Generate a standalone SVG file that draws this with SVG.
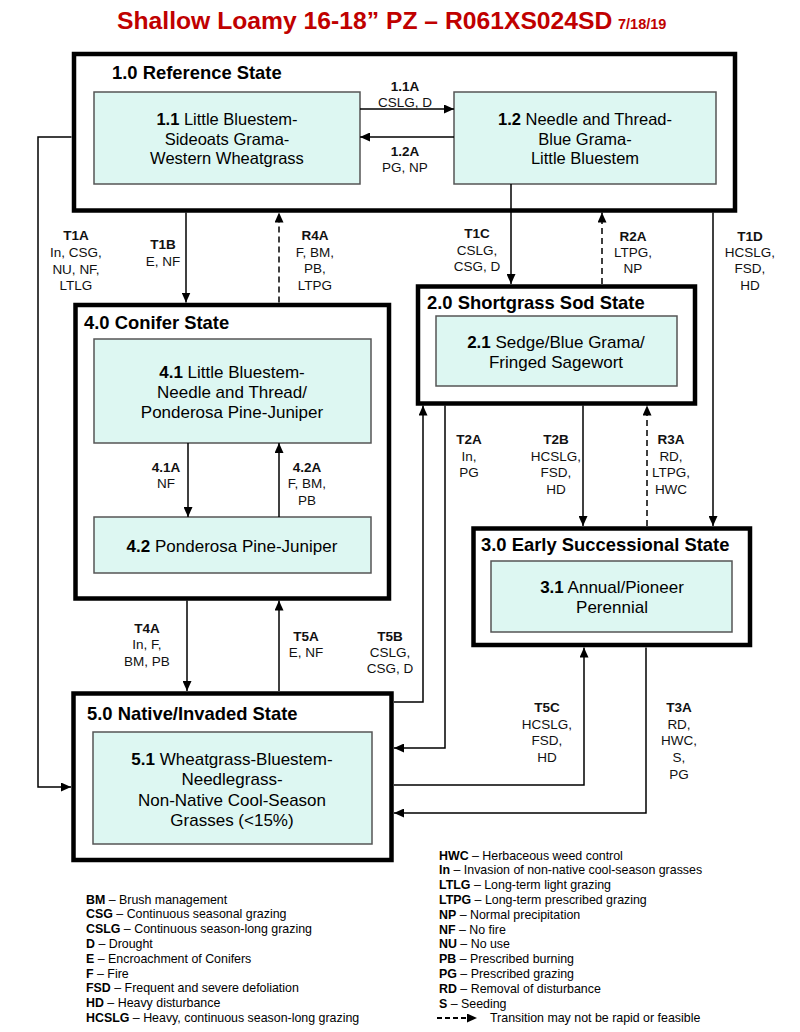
<svg xmlns="http://www.w3.org/2000/svg" width="800" height="1032" viewBox="0 0 800 1032">
<defs>
<marker id="ah" markerUnits="userSpaceOnUse" markerWidth="10" markerHeight="9" refX="10" refY="4.5" orient="auto" viewBox="0 0 10 9">
<path d="M0,0 L10,4.5 L0,9 z" fill="#000"/>
</marker>
</defs>
<style>
text{font-family:"Liberation Sans",Arial,sans-serif;fill:#000}
.title{font-size:24.7px;font-weight:bold;fill:#c00000}
.st{fill:#fff;stroke:#000;stroke-width:4.5}
.ph{fill:#ddf7f2;stroke:#555;stroke-width:1.5}
.sl{font-size:18.4px;font-weight:bold}
.bt{font-size:17px;text-anchor:middle}
.bt1{font-size:16.5px;text-anchor:middle}
.lb{font-size:13.5px;text-anchor:middle;fill:#111}
.lb tspan.h{font-weight:bold}
.c{fill:none;stroke:#000;stroke-width:1.5;marker-end:url(#ah)}
.d{stroke-dasharray:6,4}
.lg{font-size:12.4px}
</style>
<text class="title" x="117" y="28.5">Shallow Loamy 16-18” PZ – R061XS024SD<tspan x="618" font-size="14.5">7/18/19</tspan></text>

<g id="state1">
<rect class="st" x="74" y="54" width="661" height="156.5"/>
<text class="sl" x="112" y="78.5">1.0 Reference State</text>
</g>
<g id="p11">
<rect class="ph" x="94" y="92" width="266" height="92"/>
<text class="bt1" x="227" y="125"><tspan font-weight="bold">1.1</tspan> Little Bluestem-</text>
<text class="bt1" x="227" y="144.5">Sideoats Grama-</text>
<text class="bt1" x="227" y="164">Western Wheatgrass</text>
</g>
<g id="p12">
<rect class="ph" x="454" y="92" width="262" height="92"/>
<text class="bt1" x="585" y="125"><tspan font-weight="bold">1.2</tspan> Needle and Thread-</text>
<text class="bt1" x="585" y="144.5">Blue Grama-</text>
<text class="bt1" x="585" y="164">Little Bluestem</text>
</g>

<g id="state4">
<rect class="st" x="75.5" y="305" width="313.5" height="293.5"/>
<text class="sl" x="84" y="328.5">4.0 Conifer State</text>
</g>
<g id="p41">
<rect class="ph" x="94" y="339" width="277" height="104"/>
<text class="bt" x="232" y="378"><tspan font-weight="bold">4.1</tspan> Little Bluestem-</text>
<text class="bt" x="232" y="398">Needle and Thread/</text>
<text class="bt" x="232" y="418">Ponderosa Pine-Juniper</text>
</g>
<g id="p42">
<rect class="ph" x="94" y="517" width="277" height="56"/>
<text class="bt" x="232" y="552"><tspan font-weight="bold">4.2</tspan> Ponderosa Pine-Juniper</text>
</g>

<g id="state2">
<rect class="st" x="418" y="286.5" width="277" height="117"/>
<text class="sl" x="427" y="308.5">2.0 Shortgrass Sod State</text>
</g>
<g id="p21">
<rect class="ph" x="436" y="316" width="241" height="70"/>
<text class="bt" x="556" y="348"><tspan font-weight="bold">2.1</tspan> Sedge/Blue Grama/</text>
<text class="bt" x="556" y="368">Fringed Sagewort</text>
</g>

<g id="state3">
<rect class="st" x="473.5" y="528.5" width="276.5" height="116.5"/>
<text class="sl" x="481" y="550.5">3.0 Early Successional State</text>
</g>
<g id="p31">
<rect class="ph" x="491" y="561" width="241" height="71"/>
<text class="bt" x="612" y="593"><tspan font-weight="bold">3.1</tspan> Annual/Pioneer</text>
<text class="bt" x="612" y="613">Perennial</text>
</g>

<g id="state5">
<rect class="st" x="73.5" y="693.5" width="318" height="166.5"/>
<text class="sl" x="87" y="719.5">5.0 Native/Invaded State</text>
</g>
<g id="p51">
<rect class="ph" x="93" y="732" width="279" height="112"/>
<text class="bt" x="232" y="765"><tspan font-weight="bold">5.1</tspan> Wheatgrass-Bluestem-</text>
<text class="bt" x="232" y="785">Needlegrass-</text>
<text class="bt" x="232" y="806">Non-Native Cool-Season</text>
<text class="bt" x="232" y="826">Grasses (&lt;15%)</text>
</g>

<g id="connectors">
<path class="c" d="M360,109 H454"/>
<path class="c" d="M454,137 H360"/>
<path class="c" d="M71.5,137 H38 V787 H71"/>
<path class="c" d="M186,212.5 V302.5"/>
<path class="c d" d="M279,302.5 V212.5"/>
<path class="c" d="M511,184 V284"/>
<path class="c d" d="M602,284 V212.5"/>
<path class="c" d="M713,212.5 V526"/>
<path class="c" d="M445,405.5 V748 H394"/>
<path class="c" d="M394,702 H423 V405.5"/>
<path class="c" d="M583,405.5 V526"/>
<path class="c d" d="M647,526 V405.5"/>
<path class="c" d="M188,443 V517"/>
<path class="c" d="M279,517 V443"/>
<path class="c" d="M187,600.5 V691"/>
<path class="c" d="M279,691 V600.5"/>
<path class="c" d="M394,785 H584 V647.5"/>
<path class="c" d="M646,647.5 V813 H394"/>
</g>

<g id="labels">
<text class="lb" x="405" y="91"><tspan class="h">1.1A</tspan></text>
<text class="lb" x="405" y="107">CSLG, D</text>
<text class="lb" x="405" y="156"><tspan class="h">1.2A</tspan></text>
<text class="lb" x="405" y="172">PG, NP</text>

<text class="lb" x="76" y="240"><tspan class="h">T1A</tspan></text>
<text class="lb" x="76" y="257">In, CSG,</text>
<text class="lb" x="76" y="274">NU, NF,</text>
<text class="lb" x="76" y="290">LTLG</text>

<text class="lb" x="163" y="249"><tspan class="h">T1B</tspan></text>
<text class="lb" x="163" y="266">E, NF</text>

<text class="lb" x="315" y="240"><tspan class="h">R4A</tspan></text>
<text class="lb" x="315" y="257">F, BM,</text>
<text class="lb" x="315" y="273">PB,</text>
<text class="lb" x="315" y="290">LTPG</text>

<text class="lb" x="477" y="238"><tspan class="h">T1C</tspan></text>
<text class="lb" x="477" y="255">CSLG,</text>
<text class="lb" x="477" y="271">CSG, D</text>

<text class="lb" x="633" y="241"><tspan class="h">R2A</tspan></text>
<text class="lb" x="633" y="257">LTPG,</text>
<text class="lb" x="633" y="273">NP</text>

<text class="lb" x="750" y="241"><tspan class="h">T1D</tspan></text>
<text class="lb" x="750" y="257">HCSLG,</text>
<text class="lb" x="750" y="273">FSD,</text>
<text class="lb" x="750" y="290">HD</text>

<text class="lb" x="469" y="444"><tspan class="h">T2A</tspan></text>
<text class="lb" x="469" y="461">In,</text>
<text class="lb" x="469" y="477">PG</text>

<text class="lb" x="556" y="444"><tspan class="h">T2B</tspan></text>
<text class="lb" x="556" y="461">HCSLG,</text>
<text class="lb" x="556" y="477">FSD,</text>
<text class="lb" x="556" y="494">HD</text>

<text class="lb" x="671" y="444"><tspan class="h">R3A</tspan></text>
<text class="lb" x="671" y="461">RD,</text>
<text class="lb" x="671" y="477">LTPG,</text>
<text class="lb" x="671" y="494">HWC</text>

<text class="lb" x="166" y="472"><tspan class="h">4.1A</tspan></text>
<text class="lb" x="166" y="488">NF</text>

<text class="lb" x="307" y="472"><tspan class="h">4.2A</tspan></text>
<text class="lb" x="307" y="488">F, BM,</text>
<text class="lb" x="307" y="505">PB</text>

<text class="lb" x="147" y="633"><tspan class="h">T4A</tspan></text>
<text class="lb" x="147" y="649">In, F,</text>
<text class="lb" x="147" y="666">BM, PB</text>

<text class="lb" x="306" y="641"><tspan class="h">T5A</tspan></text>
<text class="lb" x="306" y="657">E, NF</text>

<text class="lb" x="390" y="641"><tspan class="h">T5B</tspan></text>
<text class="lb" x="390" y="657">CSLG,</text>
<text class="lb" x="390" y="673">CSG, D</text>

<text class="lb" x="547" y="712"><tspan class="h">T5C</tspan></text>
<text class="lb" x="547" y="729">HCSLG,</text>
<text class="lb" x="547" y="745">FSD,</text>
<text class="lb" x="547" y="762">HD</text>

<text class="lb" x="679" y="712"><tspan class="h">T3A</tspan></text>
<text class="lb" x="679" y="729">RD,</text>
<text class="lb" x="679" y="745">HWC,</text>
<text class="lb" x="679" y="762">S,</text>
<text class="lb" x="679" y="779">PG</text>
</g>

<g id="legend-left">
<text class="lg" x="86" y="903.5"><tspan font-weight="bold">BM</tspan> – Brush management</text>
<text class="lg" x="86" y="918.3"><tspan font-weight="bold">CSG</tspan> – Continuous seasonal grazing</text>
<text class="lg" x="86" y="933.1"><tspan font-weight="bold">CSLG</tspan> – Continuous season-long grazing</text>
<text class="lg" x="86" y="947.9"><tspan font-weight="bold">D</tspan> – Drought</text>
<text class="lg" x="86" y="962.7"><tspan font-weight="bold">E</tspan> – Encroachment of Conifers</text>
<text class="lg" x="86" y="977.5"><tspan font-weight="bold">F</tspan> – Fire</text>
<text class="lg" x="86" y="992.3"><tspan font-weight="bold">FSD</tspan> – Frequent and severe defoliation</text>
<text class="lg" x="86" y="1007.1"><tspan font-weight="bold">HD</tspan> – Heavy disturbance</text>
<text class="lg" x="86" y="1021.9"><tspan font-weight="bold">HCSLG</tspan> – Heavy, continuous season-long grazing</text>
</g>
<g id="legend-right">
<text class="lg" x="439" y="859.5"><tspan font-weight="bold">HWC</tspan> – Herbaceous weed control</text>
<text class="lg" x="439" y="874.3"><tspan font-weight="bold">In</tspan> – Invasion of non-native cool-season grasses</text>
<text class="lg" x="439" y="889.1"><tspan font-weight="bold">LTLG</tspan> – Long-term light grazing</text>
<text class="lg" x="439" y="903.9"><tspan font-weight="bold">LTPG</tspan> – Long-term prescribed grazing</text>
<text class="lg" x="439" y="918.7"><tspan font-weight="bold">NP</tspan> – Normal precipitation</text>
<text class="lg" x="439" y="933.5"><tspan font-weight="bold">NF</tspan> – No fire</text>
<text class="lg" x="439" y="948.3"><tspan font-weight="bold">NU</tspan> – No use</text>
<text class="lg" x="439" y="963.1"><tspan font-weight="bold">PB</tspan> – Prescribed burning</text>
<text class="lg" x="439" y="977.9"><tspan font-weight="bold">PG</tspan> – Prescribed grazing</text>
<text class="lg" x="439" y="992.7"><tspan font-weight="bold">RD</tspan> – Removal of disturbance</text>
<text class="lg" x="439" y="1007.5"><tspan font-weight="bold">S</tspan> – Seeding</text>
<path d="M437,1018 H477" fill="none" stroke="#000" stroke-width="2" stroke-dasharray="5,3" marker-end="url(#ah)"/>
<text class="lg" x="490" y="1022.3">Transition may not be rapid or feasible</text>
</g>
</svg>
